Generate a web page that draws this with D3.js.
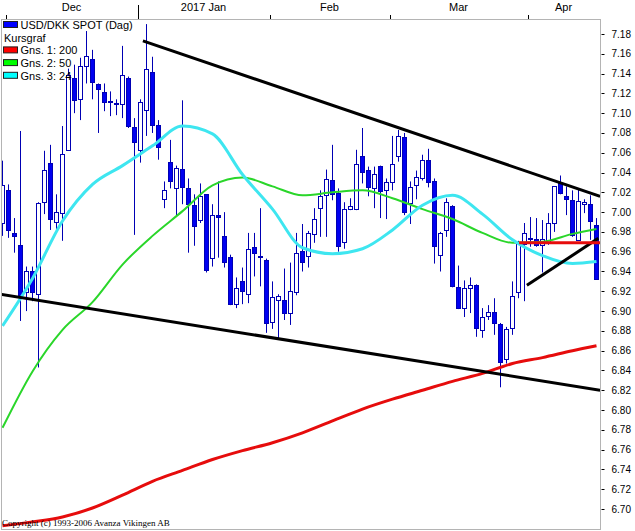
<!DOCTYPE html>
<html>
<head>
<meta charset="utf-8">
<script src="https://cdnjs.cloudflare.com/ajax/libs/d3/7.8.5/d3.min.js"></script>
<style>
  html, body { margin: 0; padding: 0; background: #fff; }
  svg { display: block; }
  text { font-family: "Liberation Sans", Arial, sans-serif; fill: #000; }
</style>
</head>
<body>
<svg id="chart" width="635" height="531"></svg>
<script>
// daily candles USD/DKK, Nov 30 .. Apr (one value per trading day)
var opens = [6.989, 7.022, 6.979, 6.967, 6.920, 6.941, 6.917, 7.011, 7.050, 6.990,
  6.999, 7.063, 7.136, 7.115, 7.148, 7.155, 7.129, 7.121, 7.112, 7.110,
  7.110, 7.136, 7.086, 7.062, 7.104, 7.142, 7.088, 7.013, 7.051, 7.025,
  7.044, 7.024, 7.007, 6.992, 7.018, 6.954, 6.997, 6.976, 6.955, 6.907,
  6.930, 6.918, 6.965, 6.956, 6.952, 6.889, 6.911, 6.911, 6.898, 6.920,
  6.961, 6.956, 6.978, 7.004, 7.017, 7.032, 7.019, 6.970, 7.003, 7.004,
  7.057, 7.043, 7.025, 7.047, 7.022, 7.031, 7.057, 7.076, 7.009, 7.027,
  7.035, 7.053, 7.031, 6.957, 6.982, 7.006, 6.924, 6.903, 6.923, 6.926,
  6.881, 6.895, 6.899, 6.887, 6.852, 6.883, 6.919, 6.968, 6.974, 6.973,
  6.967, 6.969, 6.989, 7.029, 7.016, 7.012, 6.972, 7.008, 7.008, 6.987];
var highs = [7.052, 7.028, 6.994, 7.082, 6.945, 6.945, 7.010, 7.062, 7.068, 7.018,
  7.087, 7.145, 7.149, 7.156, 7.183, 7.164, 7.130, 7.130, 7.122, 7.114,
  7.168, 7.137, 7.095, 7.114, 7.190, 7.157, 7.093, 7.031, 7.073, 7.047,
  7.113, 7.034, 7.018, 7.029, 7.018, 7.008, 7.031, 7.000, 6.957, 6.934,
  6.944, 6.979, 6.979, 7.004, 6.953, 6.930, 6.917, 6.943, 6.949, 6.979,
  6.988, 6.981, 7.004, 7.022, 7.043, 7.068, 7.024, 7.010, 7.014, 7.063,
  7.085, 7.046, 7.046, 7.047, 7.034, 7.077, 7.083, 7.080, 7.031, 7.042,
  7.058, 7.064, 7.034, 6.980, 7.014, 7.007, 6.946, 6.931, 6.934, 6.927,
  6.903, 6.906, 6.913, 6.888, 6.884, 6.930, 6.971, 6.989, 6.995, 6.994,
  6.992, 6.999, 7.026, 7.037, 7.026, 7.022, 7.023, 7.013, 7.017, 6.994];
var lows = [6.976, 6.974, 6.959, 6.890, 6.900, 6.910, 6.843, 6.998, 6.982, 6.983,
  6.971, 7.062, 7.100, 7.093, 7.130, 7.114, 7.080, 7.102, 7.097, 7.098,
  7.095, 7.085, 6.977, 7.050, 7.077, 7.080, 7.053, 7.004, 7.024, 6.997,
  7.008, 6.959, 6.966, 6.989, 6.939, 6.945, 6.954, 6.944, 6.906, 6.903,
  6.907, 6.908, 6.935, 6.925, 6.878, 6.882, 6.871, 6.891, 6.886, 6.916,
  6.940, 6.944, 6.969, 6.975, 6.975, 7.012, 6.960, 6.963, 7.002, 7.002,
  7.029, 7.016, 7.004, 6.994, 6.993, 7.022, 7.051, 6.997, 6.988, 7.013,
  7.032, 7.025, 6.948, 6.940, 6.975, 6.924, 6.902, 6.894, 6.898, 6.874,
  6.873, 6.891, 6.876, 6.823, 6.847, 6.876, 6.913, 6.910, 6.965, 6.965,
  6.939, 6.967, 6.980, 7.018, 6.997, 6.975, 6.971, 6.999, 6.972, 6.932];
var closes = [7.027, 6.982, 6.976, 6.916, 6.941, 6.920, 7.009, 7.043, 6.993, 7.000,
  7.059, 7.139, 7.114, 7.148, 7.158, 7.132, 7.124, 7.111, 7.112, 7.110,
  7.139, 7.087, 7.071, 7.111, 7.145, 7.088, 7.066, 7.022, 7.032, 7.045,
  7.026, 7.008, 6.986, 7.016, 6.941, 6.997, 6.995, 6.950, 6.908, 6.923,
  6.920, 6.963, 6.959, 6.955, 6.888, 6.914, 6.915, 6.898, 6.920, 6.959,
  6.950, 6.979, 6.993, 7.016, 7.033, 7.018, 6.965, 7.003, 7.006, 7.049,
  7.041, 7.026, 7.039, 7.022, 7.030, 7.049, 7.077, 7.000, 7.025, 7.035,
  7.053, 7.031, 6.965, 6.979, 7.010, 6.925, 6.903, 6.923, 6.926, 6.883,
  6.894, 6.899, 6.888, 6.849, 6.882, 6.915, 6.969, 6.979, 6.974, 6.967,
  6.973, 6.989, 7.026, 7.019, 7.013, 6.977, 7.011, 7.010, 6.991, 6.932];

// moving averages at every 5th day
var maDays = [0, 5, 10, 15, 20, 25, 30, 35, 40, 45, 50, 55, 60, 65, 70, 75, 80, 85, 90, 95, 99];
var ma200 = [6.683, 6.687, 6.692, 6.701, 6.714, 6.728, 6.739, 6.750, 6.759, 6.767, 6.777,
  6.789, 6.801, 6.811, 6.820, 6.829, 6.837, 6.847, 6.853, 6.860, 6.865];
var ma50 = [6.782, 6.839, 6.881, 6.909, 6.947, 6.976, 7.001, 7.027, 7.035, 7.026, 7.017,
  7.020, 7.022, 7.014, 7.003, 6.993, 6.979, 6.969, 6.970, 6.978, 6.983];
var ma24 = [6.885, 6.933, 6.991, 7.028, 7.047, 7.067, 7.087, 7.079, 7.038, 7.003, 6.964,
  6.958, 6.963, 6.982, 7.007, 7.017, 6.998, 6.972, 6.956, 6.948, 6.950];

// hand drawn lines: [day, price, day, price]
var trendLines = [
  [23.4, 7.173, 99.6, 7.016],
  [-0.4, 6.917, 99.6, 6.820],
  [87.4, 6.926, 99.3, 6.9735]
];
var levelLine = [86.1, 6.969, 99.6, 6.969];

var monthLabels = ["Dec", "2017 Jan", "Feb", "Mar", "Apr"];
var monthStarts = [1, 23, 45, 65, 88];
var yearStart = 23;
var priceTicks = d3.range(6.70, 7.19, 0.02);

var legendItems = [
  {label: "USD/DKK SPOT (Dag)", color: "#0000ff"},
  {label: "Kursgraf", color: null},
  {label: "Gns. 1: 200", color: "#ff0000"},
  {label: "Gns. 2: 50", color: "#00ff00"},
  {label: "Gns. 3: 24", color: "#00ffff"}
];

var plotLeft = 1, plotTop = 19, plotRight = 600, plotBottom = 529;

var svg = d3.select("#chart");

var x = d3.scaleLinear().domain([0, 99]).range([2.5, 596.5]);
var y = d3.scaleLinear().domain([6.70, 7.18]).range([509, 34]);

var candles = d3.range(opens.length).map(function(i) {
  return {i: i, o: opens[i], h: highs[i], l: lows[i], c: closes[i]};
});

// frame
svg.append("rect")
    .attr("x", plotLeft + 0.5)
    .attr("y", plotTop + 0.5)
    .attr("width", plotRight - plotLeft)
    .attr("height", plotBottom - plotTop)
    .attr("fill", "#fff")
    .attr("stroke", "#b4b4b4");

svg.append("clipPath").attr("id", "plot")
  .append("rect")
    .attr("x", plotLeft + 1)
    .attr("y", plotTop + 1)
    .attr("width", plotRight - plotLeft - 1)
    .attr("height", plotBottom - plotTop - 1);

var plot = svg.append("g").attr("clip-path", "url(#plot)");

// candles
var candle = plot.selectAll("g.candle")
    .data(candles)
  .enter().append("g")
    .attr("class", "candle");

candle.append("line")
    .attr("x1", function(d) { return x(d.i); })
    .attr("x2", function(d) { return x(d.i); })
    .attr("y1", function(d) { return y(d.h); })
    .attr("y2", function(d) { return y(d.l); })
    .attr("stroke", "#0000b4")
    .attr("stroke-width", 1);

candle.append("rect")
    .attr("x", function(d) { return x(d.i) - 2; })
    .attr("width", 4)
    .attr("y", function(d) { return Math.round(y(Math.max(d.o, d.c))) + 0.5; })
    .attr("height", function(d) { return Math.max(1, Math.round(Math.abs(y(d.o) - y(d.c)))); })
    .attr("fill", function(d) { return d.c < d.o ? "#0000f0" : "#fff"; })
    .attr("stroke", "#0000b4")
    .attr("stroke-width", 1);

// moving averages
var maLine = d3.line()
    .x(function(d) { return x(d[0]); })
    .y(function(d) { return y(d[1]); })
    .curve(d3.curveMonotoneX);

function drawMa(values, color, width) {
  plot.append("path")
      .datum(maDays.map(function(day, k) { return [day, values[k]]; }))
      .attr("d", maLine)
      .attr("fill", "none")
      .attr("stroke", color)
      .attr("stroke-width", width);
}

drawMa(ma200, "#e60c0c", 3);
drawMa(ma50, "#2ad62a", 2);
drawMa(ma24, "#3ee6f0", 3);

// trend lines
plot.selectAll("line.trend")
    .data(trendLines)
  .enter().append("line")
    .attr("class", "trend")
    .attr("x1", function(d) { return x(d[0]); })
    .attr("y1", function(d) { return y(d[1]); })
    .attr("x2", function(d) { return x(d[2]); })
    .attr("y2", function(d) { return y(d[3]); })
    .attr("stroke", "#000")
    .attr("stroke-width", 3);

plot.append("line")
    .attr("x1", x(levelLine[0]))
    .attr("y1", y(levelLine[1]))
    .attr("x2", x(levelLine[2]))
    .attr("y2", y(levelLine[3]))
    .attr("stroke", "#e60c0c")
    .attr("stroke-width", 3);

// month axis on top
svg.selectAll("line.mtick")
    .data(monthStarts)
  .enter().append("line")
    .attr("class", "mtick")
    .attr("x1", function(d) { return Math.round(x(d - 0.5)) + 0.5; })
    .attr("x2", function(d) { return Math.round(x(d - 0.5)) + 0.5; })
    .attr("y1", function(d) { return d === yearStart ? 5 : 15; })
    .attr("y2", plotTop)
    .attr("stroke", "#000");

svg.selectAll("text.month")
    .data(monthLabels)
  .enter().append("text")
    .attr("class", "month")
    .attr("x", function(d, k) {
      var a = monthStarts[k] - 0.5,
          b = k + 1 < monthStarts.length ? monthStarts[k + 1] - 0.5 : opens.length - 0.5;
      return x((a + b) / 2);
    })
    .attr("y", 11)
    .attr("text-anchor", "middle")
    .style("font-size", "11px")
    .text(function(d) { return d; });

// price axis on the right
var yAxis = svg.append("g")
    .attr("transform", "translate(" + (plotRight + 0.5) + ",0)");

yAxis.selectAll("line")
    .data(priceTicks)
  .enter().append("line")
    .attr("x1", 1)
    .attr("x2", 4)
    .attr("y1", function(d) { return Math.round(y(d)) + 0.5; })
    .attr("y2", function(d) { return Math.round(y(d)) + 0.5; })
    .attr("stroke", "#000");

yAxis.selectAll("text")
    .data(priceTicks)
  .enter().append("text")
    .attr("x", 11)
    .attr("y", function(d) { return y(d); })
    .attr("dy", "0.35em")
    .style("font-size", "10px")
    .text(d3.format(".2f"));

// legend
var legend = svg.append("g").attr("transform", "translate(3," + (plotTop + 2) + ")");

var item = legend.selectAll("g")
    .data(legendItems)
  .enter().append("g")
    .attr("transform", function(d, k) { return "translate(0," + (k * 12.7) + ")"; });

item.filter(function(d) { return d.color; })
  .append("rect")
    .attr("x", 0.5)
    .attr("y", 0.5)
    .attr("width", 14)
    .attr("height", 6)
    .attr("fill", function(d) { return d.color; })
    .attr("stroke", "#202020");

item.append("text")
    .attr("x", function(d) { return d.color ? 17.5 : 1; })
    .attr("y", 8)
    .style("font-size", "11px")
    .text(function(d) { return d.label; });

svg.append("text")
    .attr("x", 2)
    .attr("y", 526)
    .style("font-family", "'Liberation Serif', 'Times New Roman', serif")
    .style("font-size", "9px")
    .text("Copyright (c) 1993-2006 Avanza Vikingen AB");
</script>
</body>
</html>
